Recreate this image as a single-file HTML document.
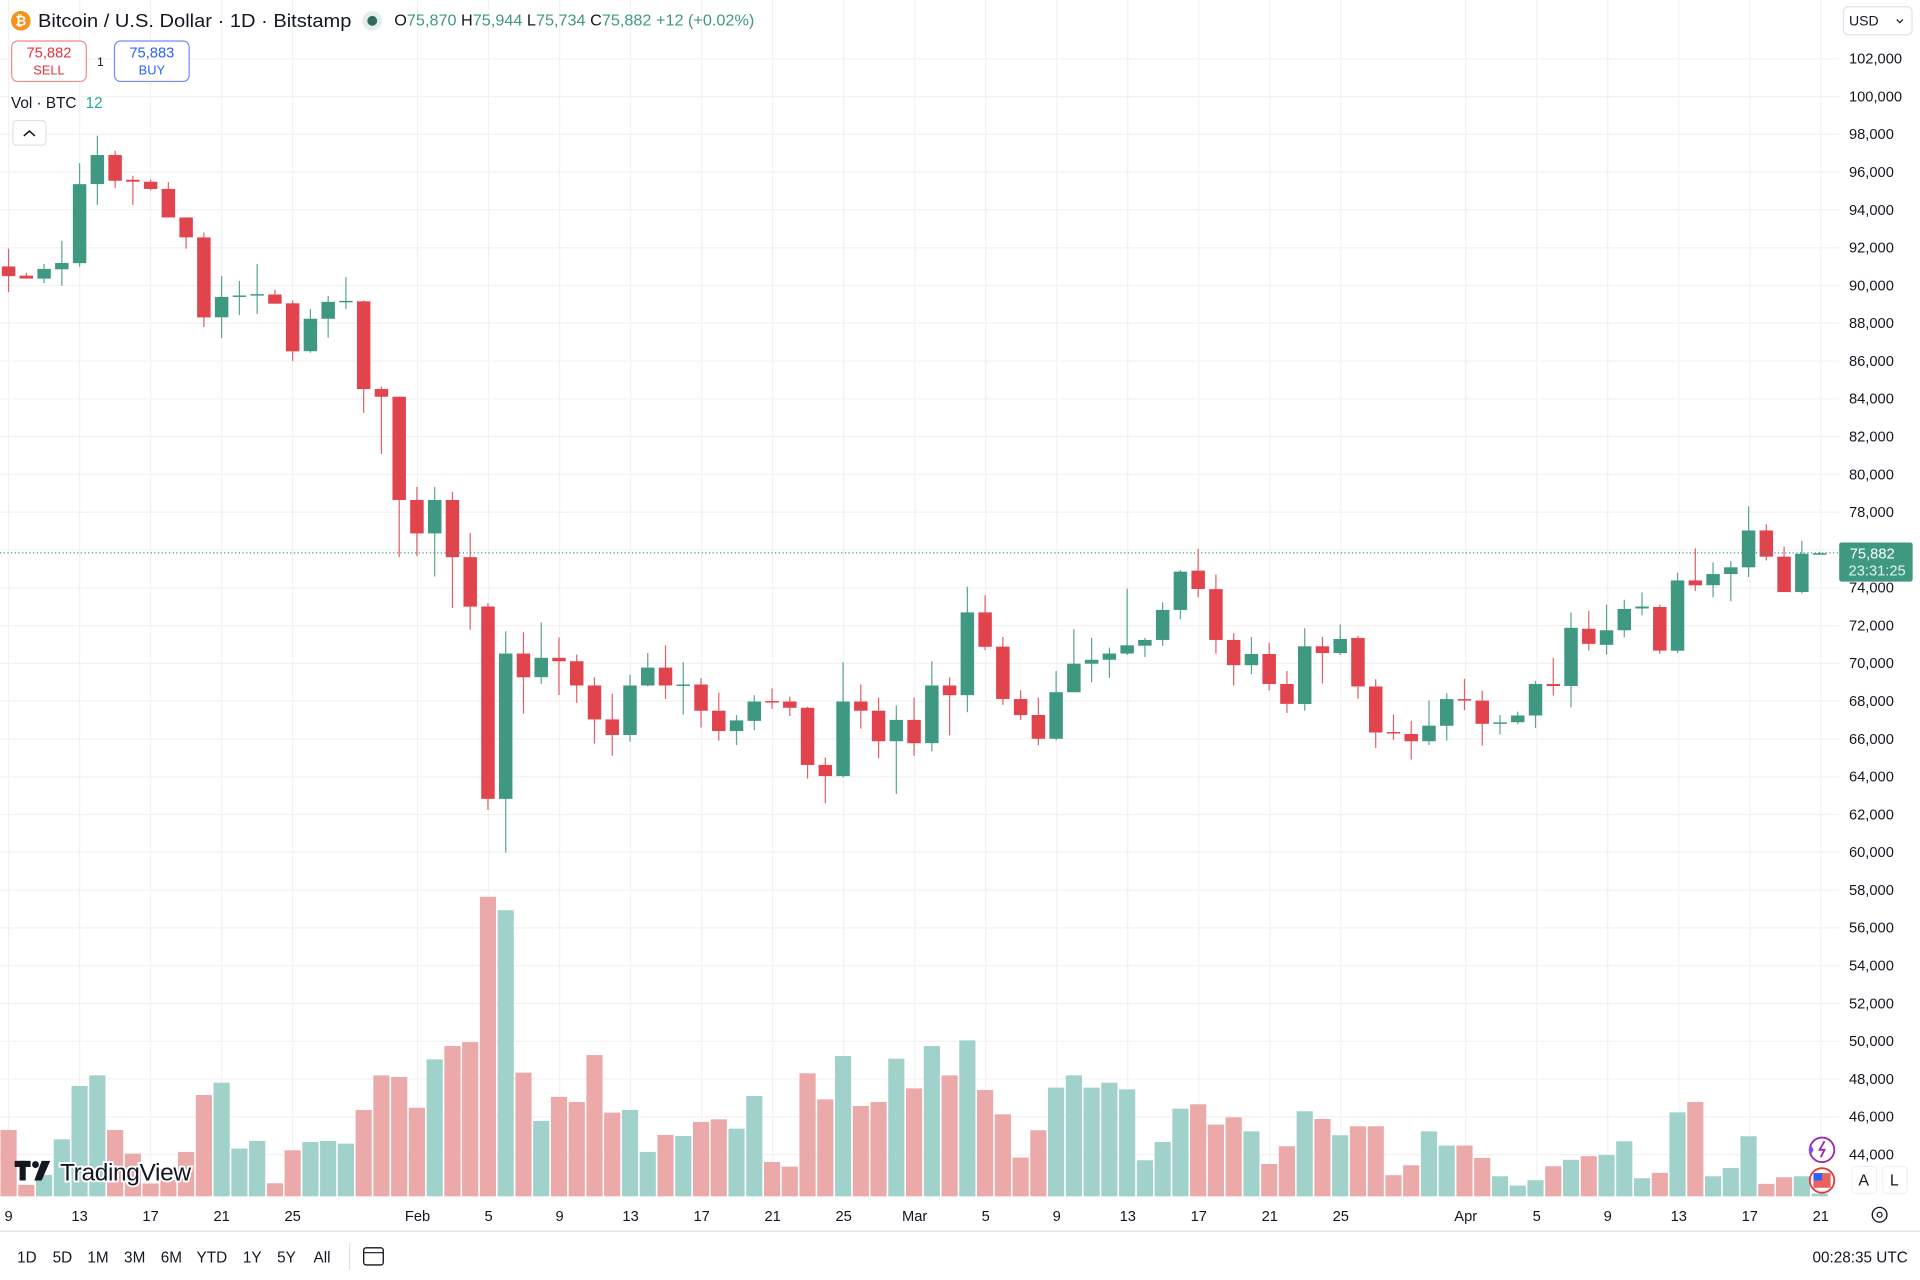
<!DOCTYPE html>
<html><head><meta charset="utf-8">
<style>
html,body{margin:0;padding:0;background:#fff;width:1920px;height:1280px;overflow:hidden}
svg{display:block}
text{font-family:"Liberation Sans","DejaVu Sans",sans-serif}
</style></head>
<body>
<svg id="s" width="1920" height="1280" viewBox="0 0 1568 1045.3" preserveAspectRatio="none" xmlns="http://www.w3.org/2000/svg">
<rect width="1568" height="1046" fill="#fff"/>
<g id="grid" stroke="#f2f2f3" stroke-width="1"></g>
<g id="vol"></g>
<g id="cdl"></g>
<line x1="0" y1="451.5" x2="1502" y2="451.5" stroke="#3f9882" stroke-width="1" stroke-dasharray="1,2"/>
<!-- header -->
<circle cx="17" cy="17" r="8" fill="#f7931a"/>
<text x="17" y="21" font-size="11" font-weight="bold" fill="#fff" text-anchor="middle">₿</text>
<text x="31" y="22" font-size="15" fill="#131722" textLength="256" lengthAdjust="spacingAndGlyphs">Bitcoin / U.S. Dollar · 1D · Bitstamp</text>
<circle cx="304" cy="17" r="8" fill="#e4efec"/>
<circle cx="304" cy="17" r="4" fill="#2e6b5c"/>
<text x="322" y="21" font-size="12.5" fill="#131722" textLength="294" lengthAdjust="spacingAndGlyphs">O<tspan fill="#3f9882">75,870</tspan> H<tspan fill="#3f9882">75,944</tspan> L<tspan fill="#3f9882">75,734</tspan> C<tspan fill="#3f9882">75,882</tspan><tspan fill="#3f9882"> +12 (+0.02%)</tspan></text>
<rect x="9.5" y="33.5" width="61" height="33" rx="5" fill="#fff" stroke="#f08a8f"/>
<text x="40" y="47" font-size="12" fill="#e0343f" text-anchor="middle">75,882</text>
<text x="40" y="61" font-size="10.5" fill="#e0343f" text-anchor="middle">SELL</text>
<text x="82" y="54" font-size="10" fill="#131722" text-anchor="middle">1</text>
<rect x="93.5" y="33.5" width="61" height="33" rx="5" fill="#fff" stroke="#6f8ef7"/>
<text x="124" y="47" font-size="12" fill="#2962ff" text-anchor="middle">75,883</text>
<text x="124" y="61" font-size="10.5" fill="#2962ff" text-anchor="middle">BUY</text>
<text x="9" y="88" font-size="12.5" fill="#131722">Vol · BTC <tspan fill="#26a69a" dx="4">12</tspan></text>
<rect x="10.5" y="98.5" width="27" height="20" rx="3" fill="#fff" stroke="#e0e3eb"/>
<path d="M19.5 111 L24 107 L28.5 111" fill="none" stroke="#131722" stroke-width="1.3"/>
<!-- right axis -->
<rect x="1505.5" y="5.5" width="56" height="23" rx="4" fill="#fff" stroke="#e0e3eb"/>
<text x="1510" y="21" font-size="11.5" fill="#131722">USD</text>
<path d="M1549 16 l2.5 2.5 l2.5 -2.5" fill="none" stroke="#131722" stroke-width="1"/>
<g id="ax" font-size="12" fill="#131722"></g>
<rect x="1502" y="443" width="60" height="32" rx="2" fill="#3f9882"/>
<text x="1529" y="456" font-size="12" fill="#fff" text-anchor="middle">75,882</text>
<text x="1533" y="470" font-size="12" fill="#e2f2ee" text-anchor="middle">23:31:25</text>
<!-- bottom axis -->
<g font-size="12" fill="#131722" text-anchor="middle">
<text x="7" y="997">9</text><text x="65" y="997">13</text><text x="123" y="997">17</text><text x="181" y="997">21</text><text x="239" y="997">25</text><text x="341" y="997">Feb</text><text x="399" y="997">5</text><text x="457" y="997">9</text><text x="515" y="997">13</text><text x="573" y="997">17</text><text x="631" y="997">21</text><text x="689" y="997">25</text><text x="747" y="997">Mar</text><text x="805" y="997">5</text><text x="863" y="997">9</text><text x="921" y="997">13</text><text x="979" y="997">17</text><text x="1037" y="997">21</text><text x="1095" y="997">25</text><text x="1197" y="997">Apr</text><text x="1255" y="997">5</text><text x="1313" y="997">9</text><text x="1371" y="997">13</text><text x="1429" y="997">17</text><text x="1487" y="997">21</text>
</g>
<line x1="0" y1="1005.5" x2="1568" y2="1005.5" stroke="#e0e3eb"/>
<circle cx="1535" cy="992" r="6" fill="none" stroke="#131722" stroke-width="1.1"/>
<circle cx="1535" cy="992" r="2" fill="none" stroke="#131722" stroke-width="1"/>
<rect x="1512.5" y="952.5" width="20" height="22" rx="3" fill="#fff" stroke="#eef0f3"/>
<text x="1522" y="968" font-size="13" fill="#131722" text-anchor="middle">A</text>
<rect x="1537.5" y="952.5" width="20" height="22" rx="3" fill="#fff" stroke="#eef0f3"/>
<text x="1547" y="968" font-size="13" fill="#131722" text-anchor="middle">L</text>
<circle cx="1488" cy="939" r="10" fill="#fff" stroke="#9c27b0" stroke-width="1.5"/>
<path d="M1490 932 l-4 7 h4 l-3 6" fill="none" stroke="#9c27b0" stroke-width="1.5"/>
<path d="M1477 939 l2 -4 l2 4 l-2 4 z" fill="#7b4dff"/>
<circle cx="1488" cy="964" r="10" fill="#fff" stroke="#e53935" stroke-width="1.5"/>
<rect x="1481" y="958" width="14" height="12" fill="#e53935" opacity="0.8"/>
<rect x="1481" y="958" width="7" height="6" fill="#2962ff"/>
<!-- TV logo -->
<rect x="12" y="948" width="13" height="5" fill="#131722"/><rect x="16" y="948" width="5" height="16" fill="#131722"/>
<circle cx="29" cy="951" r="2.8" fill="#131722"/><path d="M34 948 h7 l-7 16 h-6 z" fill="#131722"/>
<text x="49" y="964" font-size="20" fill="#131722" stroke="#fff" stroke-width="3" paint-order="stroke" style="letter-spacing:-0.3px">TradingView</text>
<!-- bottom toolbar -->
<g font-size="12.5" fill="#131722" text-anchor="middle">
<text x="22" y="1031">1D</text><text x="51" y="1031">5D</text><text x="80" y="1031">1M</text><text x="110" y="1031">3M</text><text x="140" y="1031">6M</text><text x="173" y="1031">YTD</text><text x="206" y="1031">1Y</text><text x="234" y="1031">5Y</text><text x="263" y="1031">All</text>
</g>
<line x1="285.5" y1="1015" x2="285.5" y2="1037" stroke="#e0e3eb"/>
<rect x="297" y="1019" width="16" height="14" rx="2" fill="none" stroke="#131722" stroke-width="1.1"/>
<line x1="297" y1="1023" x2="313" y2="1023" stroke="#131722"/>
<text x="1558" y="1031" font-size="12.5" fill="#131722" text-anchor="end">00:28:35 UTC</text>
</svg>
<script>
var NS="http://www.w3.org/2000/svg";
function el(p,t,a){var e=document.createElementNS(NS,t);for(var k in a)e.setAttribute(k,a[k]);p.appendChild(e);return e;}
var grid=document.getElementById('grid'),ax=document.getElementById('ax');
for(var i=0;i<=29;i++){var p=102000-2000*i;var y=48+i*30.857;
 el(grid,'line',{x1:0,x2:1502,y1:y.toFixed(1),y2:y.toFixed(1)});
 var t=el(ax,'text',{x:1510,y:(y+4).toFixed(1)});t.textContent=p.toLocaleString('en-US');}
[7,65,123,181,239,341,399,457,515,573,631,689,747,805,863,921,979,1037,1095,1197,1255,1313,1371,1429,1487].forEach(function(x){el(grid,'line',{x1:x,x2:x,y1:0,y2:978});});
var G='#3f9882',R='#e1444d';
var C=[[305,325,268,358,R],[324,330,318,330,R],[310,330,300,340,G],[298,311,252,345,G],[135,298,92,305,G],[75,135,35,178,G],[75,128,66,143,R],[126,130,118,178,R],[130,145,126,148,R],[145,204,131,204,R],[204,245,204,268,R],[245,410,235,430,R],[368,410,325,453,G],[365,368,335,405,G],[362,364,300,403,G],[363,382,353,382,R],[381,480,375,500,R],[413,480,393,483,G],[378,413,366,452,G],[376,378,327,393,G],[377,558,375,607,R],[558,574,553,692,R],[574,787,574,905,R],[787,856,760,903,R],[787,856,760,945,G],[787,905,770,1010,R],[905,1007,855,1055,R],
[1007,1404,1000,1427,R],[1104,1404,1058,1515,G],[1104,1153,1060,1228,R],[1113,1153,1040,1167,G],[1113,1120,1071,1190,R],[1120,1170,1106,1206,R],[1170,1240,1153,1290,R],[1240,1272,1187,1315,R],[1170,1272,1148,1286,G],[1133,1170,1103,1172,G],[1133,1170,1087,1198,R],[1168,1170,1122,1230,G],[1168,1222,1155,1257,R],[1222,1264,1185,1284,R],[1242,1264,1231,1293,G],[1203,1243,1190,1262,G],[1202,1204,1176,1218,R],[1203,1216,1193,1233,R],[1216,1334,1214,1362,R],[1334,1357,1319,1413,R],[1203,1357,1122,1360,G],[1203,1222,1168,1259,R],[1222,1285,1195,1320,R],[1241,1285,1211,1394,G],[1241,1289,1195,1315,R],[1170,1289,1120,1306,G],
[1170,1190,1153,1273,R],[1019,1190,966,1225,G],[1019,1090,984,1097,R],[1090,1198,1070,1210,R],[1198,1231,1180,1241,R],[1231,1280,1195,1293,R],[1184,1280,1140,1283,G],[1125,1184,1054,1184,G],[1117,1125,1072,1163,G],[1104,1117,1092,1154,G],[1087,1104,970,1107,G],[1076,1088,1072,1111,G],[1014,1076,998,1088,G],[935,1014,932,1033,G],[933,971,888,988,R],[971,1076,941,1104,R],[1076,1128,1062,1170,R],[1105,1128,1070,1147,G],[1105,1167,1082,1180,R],[1167,1208,1140,1227,R],[1089,1208,1052,1222,G],[1089,1103,1070,1166,R],[1074,1103,1044,1107,G],[1072,1172,1068,1197,R],[1172,1267,1157,1299,R],[1266,1268,1230,1282,R],
[1270,1285,1243,1323,R],[1253,1285,1201,1293,G],[1198,1253,1186,1284,G],[1198,1200,1156,1221,R],[1201,1249,1181,1294,R],[1246,1248,1231,1271,G],[1232,1246,1224,1250,G],[1167,1232,1161,1258,G],[1167,1171,1113,1191,R],[1051,1171,1019,1215,G],[1053,1084,1016,1098,R],[1056,1086,1003,1106,G],[1012,1056,993,1071,G],[1007,1011,978,1025,G],[1008,1098,1003,1105,R],[953,1098,937,1103,G],[953,963,887,975,R],[940,963,916,988,G],[926,940,913,996,G],[850,926,800,946,G],[850,904,837,912,R],[904,977,883,977,R],[898,977,871,980,G],[897,899,894,900,G]];
function fy(z){return 110+(z-33)*0.3956;}
var cg=document.getElementById('cdl');
C.forEach(function(c,i){var x=7+14.5*i;var t=fy(c[0]),b=fy(c[1]),h=fy(c[2]),l=fy(c[3]);
 el(cg,'line',{x1:x,x2:x,y1:h.toFixed(1),y2:l.toFixed(1),stroke:c[4],'stroke-width':1,opacity:0.85});
 el(cg,'rect',{x:(x-5.5).toFixed(1),y:t.toFixed(1),width:11,height:Math.max(1.2,b-t).toFixed(1),fill:c[4]});});
var GV='#a0d1cb',RV='#eba9a9';
var V=[[754,RV],[919,RV],[889,GV],[782,GV],[622,GV],[590,GV],[754,RV],[825,RV],[915,RV],[905,RV],[820,RV],[649,RV],[612,GV],[810,GV],[787,GV],[914,RV],[815,RV],[790,GV],[787,GV],[795,GV],[694,RV],[590,RV],[595,RV],[687,RV],[542,GV],[502,RV],[490,RV],[54,RV],[94,GV],[582,RV],[727,GV],[655,RV],[670,RV],[529,RV],[702,RV],
[694,GV],[820,GV],[769,RV],[772,GV],[730,RV],[722,RV],[750,GV],[652,GV],[850,RV],[864,RV],[584,RV],[662,RV],[532,GV],[682,RV],[670,RV],[540,GV],[629,RV],[502,GV],[590,RV],[485,GV],[634,RV],[707,RV],[837,RV],[755,RV],[627,GV],[590,GV],[627,GV],[612,GV],[632,GV],[845,GV],[790,GV],[690,GV],[677,RV],[738,RV],
[716,RV],[758,GV],[856,RV],[803,RV],[698,GV],[721,RV],[770,GV],[743,RV],[743,RV],[890,RV],[860,RV],[758,GV],[801,GV],[801,RV],[838,RV],[893,GV],[921,GV],[905,GV],[863,RV],[844,GV],[833,RV],[829,GV],[788,GV],[899,GV],[883,RV],[701,GV],[670,RV],[893,GV],[868,GV],[773,GV],[916,RV],[896,RV],[893,GV],[945,GV]];
var vg=document.getElementById('vol');
V.forEach(function(v,i){var x=7+14.5*i;var t=727+(v[0]-34)*0.2719;
 el(vg,'rect',{x:(x-6.6).toFixed(1),y:t.toFixed(1),width:13.2,height:(977-t).toFixed(1),fill:v[1]});});
</script>
</body></html>
